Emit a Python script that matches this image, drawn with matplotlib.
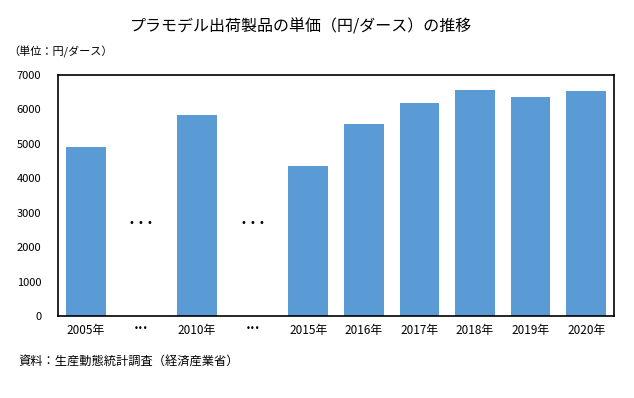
import matplotlib
matplotlib.use("Agg")
import matplotlib.pyplot as plt

plt.rcParams['font.family'] = ['Noto Sans CJK JP', 'DejaVu Sans']

categories = ["2005年", "…", "2010年", "…", "2015年", "2016年", "2017年", "2018年", "2019年", "2020年"]
values = [4910, 0, 5840, 0, 4360, 5580, 6190, 6570, 6370, 6540]
gap_positions = [1, 3]
gap_level = 2700
yticks = [0, 1000, 2000, 3000, 4000, 5000, 6000, 7000]

title = "プラモデル出荷製品の単価（円/ダース）の推移"
unit_label = "（単位：円/ダース）"
source = "資料：生産動態統計調査（経済産業省）"

fig = plt.figure(figsize=(6.34, 3.98), dpi=100)
ax = fig.add_axes([58/634, 1-316/398, 556/634, 241/398])

x = list(range(len(categories)))
ax.bar(x, values, width=0.71, color="#5b9bd5", zorder=2)
ax.set_xlim(-0.5, len(categories) - 0.5)
ax.set_ylim(0, 7000)
ax.set_yticks(yticks)
ax.set_yticklabels([str(v) for v in yticks], fontsize=8)
ax.set_xticks(x)
display = ["•••" if c == "…" else c for c in categories]
labels = ax.set_xticklabels(display, fontsize=8.5)
for lab, c in zip(labels, categories):
    if c == "…":
        lab.set_family(['DejaVu Sans'])
        lab.set_fontsize(6)
ax.tick_params(axis='both', length=0)
ax.tick_params(axis='y', pad=12)
ax.tick_params(axis='x', pad=6)
for s in ax.spines.values():
    s.set_linewidth(1.2)
    s.set_color("black")

for gp in gap_positions:
    ax.text(gp, gap_level, "• • •", ha="center", va="center", fontsize=7,
            family=['DejaVu Sans'], color="black")

fig.text(301/634, 1-27/398, title, ha="center", va="center", fontsize=11.5)
fig.text(8/634, 1-52/398, unit_label, ha="left", va="center", fontsize=8)
fig.text(18/634, 1-361/398, source, ha="left", va="center", fontsize=8.8)

fig.savefig("out.png", dpi=100)
